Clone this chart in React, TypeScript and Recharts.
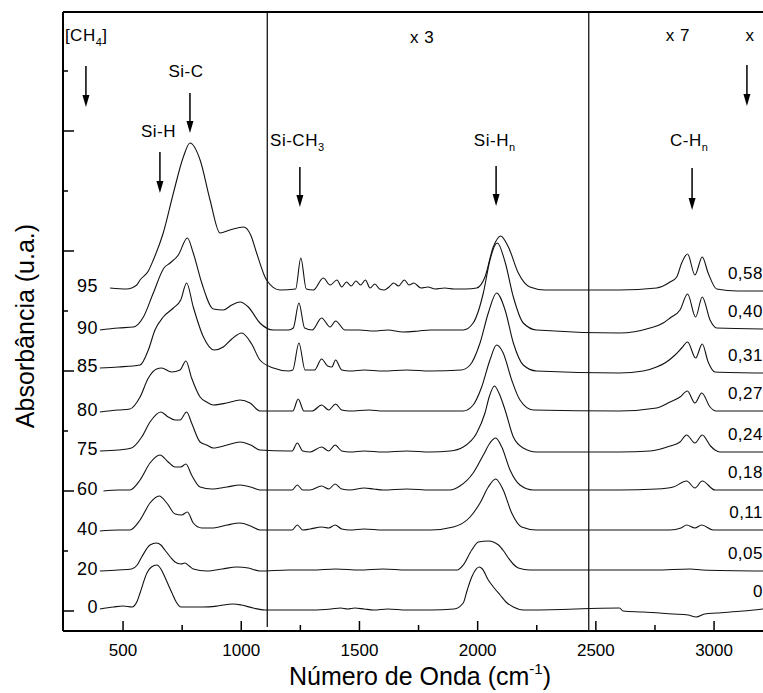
import React from "react";
import { LineChart, Line, XAxis, YAxis, ReferenceLine, ReferenceDot } from "recharts";

const FONT = '"Liberation Sans", Arial, Helvetica, sans-serif';

type Pt = [number, number];

// FTIR spectra: [wavenumber (cm-1), absorbance (u.a., stacked)]
const s0: Pt[] = [
  [402, 2], [460, 4], [500, 5], [538, 4], [560, 10], [572, 18], [601, 38], [620, 44], [643, 46], [660, 42],
  [669, 38], [690, 27], [707, 18], [725, 9], [745, 4], [800, 4], [838, 4], [900, 5], [965, 7], [1000, 6],
  [1050, 3], [1100, 1], [1200, 1], [1300, 1], [1380, 2], [1420, 3], [1450, 2], [1480, 3], [1520, 2], [1560, 1],
  [1620, 2], [1700, 1], [1800, 1], [1900, 2], [1939, 8], [1956, 21], [1975, 34], [2007, 44], [2020, 42], [2045, 31],
  [2070, 23], [2095, 16], [2120, 9], [2151, 4], [2193, 1], [2230, 1], [2600, 3], [2615, 0], [2700, -1], [2826, -3],
  [2890, -4], [2924, -6], [2960, -3], [3011, -2], [3123, 0], [3207, 2],
];

const s20: Pt[] = [
  [402, 40], [480, 41], [536, 42], [560, 46], [579, 54], [614, 66], [642, 68], [660, 66], [677, 61], [700, 54],
  [720, 49], [745, 47], [762, 48], [780, 45], [797, 42], [854, 40], [920, 42], [981, 44], [1030, 43], [1079, 40],
  [1200, 41], [1300, 41], [1400, 42], [1500, 41], [1600, 42], [1700, 41], [1800, 41], [1913, 41], [1939, 46], [1975, 61],
  [2003, 69], [2045, 70], [2088, 66], [2110, 60], [2130, 53], [2150, 47], [2172, 43], [2221, 41], [2600, 41], [2750, 41],
  [2900, 42], [2950, 41], [3207, 40],
];

const s40: Pt[] = [
  [402, 80], [480, 81], [529, 81], [572, 91], [614, 108], [653, 115], [685, 108], [720, 97], [748, 96], [772, 99],
  [797, 88], [833, 83], [882, 83], [940, 86], [995, 88], [1040, 85], [1079, 81], [1200, 81], [1215, 81], [1237, 86],
  [1260, 81], [1291, 82], [1340, 84], [1370, 83], [1397, 86], [1425, 82], [1460, 81], [1520, 82], [1600, 81], [1700, 81],
  [1800, 81], [1897, 84], [1968, 94], [2010, 108], [2045, 124], [2076, 132], [2108, 121], [2144, 98], [2186, 84], [2249, 81],
  [2600, 81], [2814, 81], [2860, 83], [2884, 86], [2919, 83], [2948, 86], [2996, 81], [3207, 81],
];

const s60: Pt[] = [
  [417, 120], [480, 121], [529, 121], [572, 131], [614, 148], [656, 156], [691, 149], [720, 144], [744, 144], [766, 147],
  [790, 136], [826, 124], [875, 122], [940, 124], [995, 126], [1040, 124], [1079, 121], [1200, 121], [1215, 121], [1237, 126],
  [1260, 121], [1291, 121], [1340, 125], [1370, 122], [1397, 127], [1425, 122], [1460, 121], [1520, 123], [1560, 122], [1600, 121],
  [1700, 122], [1800, 121], [1883, 121], [1925, 125], [1981, 138], [2024, 156], [2052, 168], [2076, 173], [2102, 164], [2137, 141],
  [2179, 126], [2235, 121], [2600, 121], [2757, 122], [2827, 124], [2884, 130], [2919, 123], [2950, 130], [3004, 121], [3207, 121],
];

const s75: Pt[] = [
  [402, 160], [480, 161], [536, 163], [579, 174], [614, 189], [660, 199], [691, 194], [720, 191], [741, 191], [769, 199],
  [790, 188], [826, 169], [854, 166], [882, 163], [940, 166], [995, 169], [1040, 166], [1079, 161], [1200, 160], [1215, 160],
  [1237, 168], [1260, 160], [1291, 159], [1340, 164], [1370, 160], [1397, 166], [1425, 160], [1460, 159], [1520, 160], [1600, 159],
  [1700, 160], [1800, 159], [1883, 160], [1939, 164], [1996, 178], [2031, 198], [2050, 215], [2071, 225], [2090, 218], [2116, 201],
  [2151, 174], [2193, 163], [2249, 159], [2600, 159], [2729, 160], [2814, 165], [2856, 169], [2884, 176], [2919, 168], [2950, 176],
  [2985, 165], [3004, 161], [3025, 159], [3207, 159],
];

const s80: Pt[] = [
  [402, 199], [480, 201], [529, 202], [572, 214], [607, 233], [642, 242], [663, 243], [705, 239], [741, 241], [766, 250],
  [790, 233], [826, 214], [854, 209], [882, 206], [938, 208], [995, 211], [1037, 208], [1079, 200], [1200, 200], [1218, 200],
  [1241, 212], [1265, 200], [1300, 200], [1340, 206], [1370, 201], [1399, 207], [1425, 201], [1460, 200], [1540, 201], [1600, 200],
  [1700, 200], [1800, 200], [1939, 200], [1981, 206], [2017, 224], [2052, 251], [2080, 266], [2108, 258], [2144, 231], [2179, 211],
  [2235, 201], [2600, 200], [2757, 203], [2814, 209], [2856, 214], [2887, 220], [2919, 208], [2948, 218], [2983, 204], [3008, 200],
  [3207, 200],
];

const s85: Pt[] = [
  [402, 243], [480, 244], [572, 246], [607, 261], [635, 281], [670, 294], [713, 303], [744, 311], [769, 328], [797, 304],
  [840, 274], [885, 261], [924, 264], [960, 272], [1002, 278], [1044, 267], [1079, 251], [1136, 243], [1200, 240], [1218, 241],
  [1244, 268], [1270, 241], [1310, 241], [1340, 252], [1365, 245], [1383, 244], [1399, 251], [1425, 241], [1460, 240], [1520, 241],
  [1600, 240], [1700, 241], [1800, 240], [1930, 241], [1968, 246], [2010, 268], [2045, 298], [2080, 318], [2116, 301], [2151, 268],
  [2193, 246], [2249, 240], [2600, 238], [2700, 240], [2757, 244], [2792, 248], [2835, 256], [2863, 263], [2888, 269], [2922, 253],
  [2950, 267], [2975, 249], [3004, 239], [3207, 238],
];

const s90: Pt[] = [
  [402, 281], [480, 283], [544, 284], [586, 294], [628, 318], [673, 343], [699, 348], [734, 356], [772, 373], [797, 358],
  [833, 328], [882, 302], [924, 301], [960, 306], [995, 309], [1030, 304], [1079, 288], [1136, 281], [1200, 281], [1220, 283],
  [1244, 308], [1268, 283], [1300, 281], [1340, 293], [1376, 284], [1399, 290], [1439, 281], [1500, 281], [1560, 280], [1620, 281],
  [1684, 279], [1750, 280], [1800, 281], [1939, 281], [1981, 288], [2024, 318], [2052, 351], [2083, 368], [2116, 349], [2151, 314],
  [2193, 288], [2249, 281], [2600, 278], [2729, 283], [2785, 288], [2814, 293], [2856, 301], [2888, 317], [2922, 294], [2950, 314],
  [2983, 291], [3011, 283], [3207, 282],
];

const s95: Pt[] = [
  [445, 323], [515, 322], [558, 326], [572, 331], [607, 340], [628, 351], [670, 378], [713, 418], [755, 454], [783, 468],
  [826, 451], [868, 411], [910, 378], [952, 381], [1010, 384], [1040, 376], [1065, 358], [1107, 331], [1164, 321], [1230, 322],
  [1252, 353], [1275, 322], [1305, 321], [1347, 333], [1376, 326], [1405, 331], [1425, 324], [1445, 329], [1465, 325], [1485, 330],
  [1505, 326], [1525, 331], [1545, 323], [1565, 327], [1585, 322], [1605, 321], [1625, 324], [1645, 328], [1665, 325], [1690, 331],
  [1710, 326], [1730, 328], [1760, 323], [1790, 324], [1820, 322], [1860, 323], [1900, 322], [1950, 322], [1996, 323], [2031, 334],
  [2066, 364], [2097, 375], [2130, 364], [2172, 338], [2221, 324], [2285, 321], [2600, 321], [2757, 323], [2814, 329], [2842, 334],
  [2863, 348], [2888, 357], [2919, 336], [2950, 354], [2975, 338], [3011, 322], [3100, 320], [3207, 320],
];

const spectra = [s0, s20, s40, s60, s75, s80, s85, s90, s95];
const ch4Labels = ["0", "20", "40", "60", "75", "80", "85", "90", "95"];
const xFracLabels = ["0", "0,05", "0,11", "0,18", "0,24", "0,27", "0,31", "0,40", "0,58"];

const xTicks = [500, 750, 1000, 1250, 1500, 1750, 2000, 2250, 2500, 2750, 3000];
const yTicks = [0, 60, 120, 180, 240, 300, 360, 420, 480, 540];
const separators = [1110, 2470];

// band markers: wavenumber, arrow start/end (u.a.)
const arrows = [
  { wn: 343, from: 545, to: 504 },
  { wn: 783, from: 518, to: 478 },
  { wn: 656, from: 459, to: 418 },
  { wn: 1248, from: 444, to: 404 },
  { wn: 2078, from: 445, to: 405 },
  { wn: 2907, from: 443, to: 401 },
  { wn: 3139, from: 546, to: 505 },
];

const XTick = (props: any) => {
  const { x, y, payload } = props;
  const major = payload.value % 500 === 0;
  return (
    <g>
      <line x1={x} x2={x} y1={y} y2={y - (major ? 10 : 6)} stroke="#000" strokeWidth={1.5} />
      {major && (
        <text x={x} y={y + 25} textAnchor="middle" fontSize={17} fontFamily={FONT} fill="#000">
          {payload.value}
        </text>
      )}
    </g>
  );
};

const YTick = (props: any) => {
  const { x, y, payload } = props;
  const major = payload.value % 120 === 0;
  return <line x1={x} x2={x + (major ? 11 : 5)} y1={y} y2={y} stroke="#000" strokeWidth={1.5} />;
};

const ArrowShape = (p: any) => {
  const { x1, y1, x2, y2 } = p;
  return (
    <g>
      <line x1={x1} y1={y1} x2={x2} y2={y2 - 10} stroke="#000" strokeWidth={1.5} />
      <polygon points={`${x2 - 3.5},${y2 - 12} ${x2 + 3.5},${y2 - 12} ${x2},${y2}`} fill="#000" />
    </g>
  );
};

const note = (key: string, x: number, y: number, anchor: string, content: React.ReactNode, size = 17) => (
  <ReferenceDot
    key={key}
    x={x}
    y={y}
    r={0}
    ifOverflow="visible"
    shape={(p: any) => (
      <text
        x={p.cx}
        y={p.cy}
        dy="0.36em"
        textAnchor={anchor}
        fontSize={size}
        fontFamily={FONT}
        letterSpacing={0.5}
        fill="#000"
      >
        {content}
      </text>
    )}
  />
);

const sub = (s: string) => (
  <tspan dy={5} fontSize={11}>
    {s}
  </tspan>
);

export default function App() {
  return (
    <div style={{ position: "absolute", left: 0, top: 0, width: 763, height: 693, background: "#fff", overflow: "hidden" }}>
      <LineChart width={763} height={693} margin={{ top: 12, right: 0, bottom: 32, left: 53 }}>
        <XAxis
          type="number"
          dataKey="wn"
          domain={[246, 3207]}
          allowDataOverflow
          ticks={xTicks}
          interval={0}
          tick={<XTick />}
          tickSize={0}
          tickMargin={0}
          tickLine={false}
          height={30}
          axisLine={{ stroke: "#000", strokeWidth: 2 }}
        />
        <YAxis
          type="number"
          domain={[-20, 599]}
          allowDataOverflow
          ticks={yTicks}
          interval={0}
          tick={<YTick />}
          tickSize={0}
          tickMargin={0}
          tickLine={false}
          width={10}
          axisLine={{ stroke: "#000", strokeWidth: 2 }}
        />
        <ReferenceLine y={599} stroke="#000" strokeWidth={2} />
        <ReferenceLine segment={[{ x: separators[0], y: 599 }, { x: separators[0], y: -16 }]} stroke="#000" strokeWidth={1.2} />
        <ReferenceLine segment={[{ x: separators[1], y: 599 }, { x: separators[1], y: -20 }]} stroke="#000" strokeWidth={1.2} />
        {spectra.map((s, i) => (
          <Line
            key={ch4Labels[i]}
            data={s.map(([wn, a]) => ({ wn, a }))}
            dataKey="a"
            type="monotone"
            dot={false}
            stroke="#111"
            strokeWidth={1.1}
            isAnimationActive={false}
          />
        ))}
        {arrows.map((a, i) => (
          <ReferenceLine
            key={"ar" + i}
            segment={[{ x: a.wn, y: a.from }, { x: a.wn, y: a.to }]}
            shape={ArrowShape}
          />
        ))}
        {spectra.map((s, i) => note("l" + i, 394, s[0][1] + 2, "end", ch4Labels[i], 18))}
        {spectra.map((s, i) => note("r" + i, 3207, s[s.length - 1][1] + 18, "end", xFracLabels[i], 17))}
        {note("ch4", 254, 576, "start", <>[CH{sub("4")}<tspan dy={-5}>]</tspan></>)}
        {note("sic", 766, 540, "middle", "Si-C")}
        {note("sih", 650, 480, "middle", "Si-H")}
        {note("sich3", 1122, 471, "start", <>Si-CH{sub("3")}</>)}
        {note("x3", 1765, 574, "middle", "x 3")}
        {note("sihn", 1984, 471, "start", <>Si-H{sub("n")}</>)}
        {note("x7", 2847, 576, "middle", "x 7")}
        {note("chn", 2814, 471, "start", <>C-H{sub("n")}</>)}
        {note("x", 3152, 576, "middle", "x")}
      </LineChart>
      <div
        style={{
          position: "absolute",
          left: 420,
          top: 664,
          transform: "translateX(-50%)",
          fontFamily: FONT,
          fontSize: 25,
          lineHeight: "25px",
          whiteSpace: "nowrap",
          color: "#000",
        }}
      >
        Número de Onda (cm<span style={{ fontSize: 15, position: "relative", top: -11 }}>-1</span>)
      </div>
      <div
        style={{
          position: "absolute",
          left: 25,
          top: 326,
          transform: "translate(-50%, -50%) rotate(-90deg)",
          fontFamily: FONT,
          fontSize: 25,
          lineHeight: "25px",
          whiteSpace: "nowrap",
          color: "#000",
        }}
      >
        Absorbância (u.a.)
      </div>
    </div>
  );
}
